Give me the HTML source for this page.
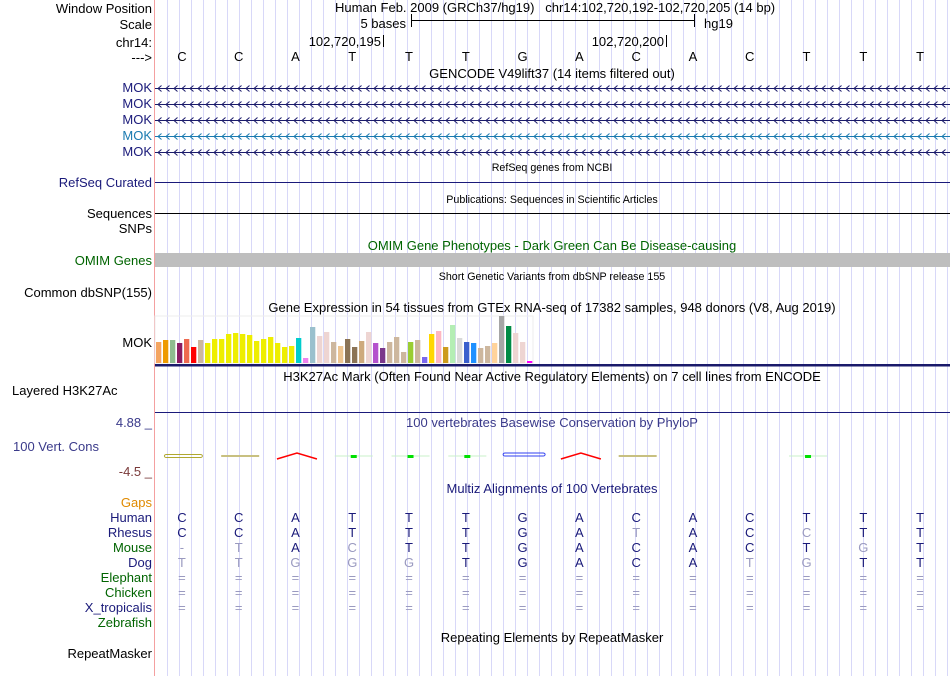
<!DOCTYPE html>
<html><head><meta charset="utf-8"><style>
body{margin:0;background:#fff;}
svg{display:block;font-family:"Liberation Sans",sans-serif;}
</style></head><body>
<svg id="c" width="950" height="676" xmlns="http://www.w3.org/2000/svg">
<g id="grid"></g>
<line x1="154.5" y1="0" x2="154.5" y2="676" stroke="#f4a0a0"/>
<g font-size="13" text-anchor="end">
<text x="152" y="13">Window Position</text>
<text x="152" y="29">Scale</text>
<text x="152" y="47">chr14:</text>
<text x="152" y="62">---&gt;</text>
<text x="152" y="92" fill="#1a1a7a">MOK</text>
<text x="152" y="108" fill="#1a1a7a">MOK</text>
<text x="152" y="124" fill="#1a1a7a">MOK</text>
<text x="152" y="140" fill="#1a7ab0">MOK</text>
<text x="152" y="156" fill="#1a1a7a">MOK</text>
<text x="152" y="187" fill="#1a1a7a">RefSeq Curated</text>
<text x="152" y="218">Sequences</text>
<text x="152" y="233">SNPs</text>
<text x="152" y="265" fill="#006400">OMIM Genes</text>
<text x="152" y="297">Common dbSNP(155)</text>
<text x="152" y="347">MOK</text>
<text x="12" y="395" text-anchor="start">Layered H3K27Ac</text>
<text x="152" y="427" fill="#3a3a8a">4.88 _</text>
<text x="13" y="451" text-anchor="start" fill="#3a3a8a">100 Vert. Cons</text>
<text x="152" y="476" fill="#7a3a3a">-4.5 _</text>
<text x="152" y="507" fill="#e08a00">Gaps</text>
<text x="152" y="522" fill="#1a1a7a">Human</text>
<text x="152" y="537" fill="#1a1a7a">Rhesus</text>
<text x="152" y="552" fill="#006400">Mouse</text>
<text x="152" y="567" fill="#1a1a7a">Dog</text>
<text x="152" y="582" fill="#006400">Elephant</text>
<text x="152" y="597" fill="#006400">Chicken</text>
<text x="152" y="612" fill="#1a1a7a">X_tropicalis</text>
<text x="152" y="627" fill="#006400">Zebrafish</text>
<text x="152" y="658">RepeatMasker</text>
</g>
<g font-size="13" text-anchor="middle">
<text x="335" y="12" text-anchor="start">Human Feb. 2009 (GRCh37/hg19)&#160;&#160;&#160;chr14:102,720,192-102,720,205 (14 bp)</text>
<text x="406" y="28" text-anchor="end">5 bases</text>
<text x="704" y="28" text-anchor="start">hg19</text>
<text x="381" y="46" text-anchor="end">102,720,195</text>
<text x="664" y="46" text-anchor="end">102,720,200</text>
<text x="552" y="78">GENCODE V49lift37 (14 items filtered out)</text>
<text x="552" y="171" font-size="10.7">RefSeq genes from NCBI</text>
<text x="552" y="203" font-size="10.7">Publications: Sequences in Scientific Articles</text>
<text x="552" y="250" fill="#006400">OMIM Gene Phenotypes - Dark Green Can Be Disease-causing</text>
<text x="552" y="280" font-size="10.7">Short Genetic Variants from dbSNP release 155</text>
<text x="552" y="312">Gene Expression in 54 tissues from GTEx RNA-seq of 17382 samples, 948 donors (V8, Aug 2019)</text>
<text x="552" y="381">H3K27Ac Mark (Often Found Near Active Regulatory Elements) on 7 cell lines from ENCODE</text>
<text x="552" y="427" fill="#3a3a8a">100 vertebrates Basewise Conservation by PhyloP</text>
<text x="552" y="493" fill="#1a1a7a">Multiz Alignments of 100 Vertebrates</text>
<text x="552" y="642">Repeating Elements by RepeatMasker</text>
</g>
<g stroke="#000">
<line x1="411" y1="20.5" x2="695" y2="20.5"/><line x1="411.5" y1="14" x2="411.5" y2="27"/><line x1="694.5" y1="14" x2="694.5" y2="27"/>
<line x1="383.5" y1="35" x2="383.5" y2="47"/><line x1="666.5" y1="35" x2="666.5" y2="47"/>
</g>
<line x1="155" y1="182.5" x2="950" y2="182.5" stroke="#1a1a7a"/>
<line x1="155" y1="213.5" x2="950" y2="213.5" stroke="#000"/>
<rect x="155" y="253" width="795" height="14" fill="#bebebe"/>
<rect x="155" y="364" width="795" height="2.5" fill="#1a1a6a"/>
<rect x="155" y="316" width="378" height="47" fill="none" stroke="#eee"/>
<line x1="155" y1="412.5" x2="950" y2="412.5" stroke="#1a1a7a"/>
<g id="genes"></g><g id="bases"></g><g id="bars"></g><g id="cons"></g><g id="maf"></g>
</svg>
<script>
const bases=["C","C","A","T","T","T","G","A","C","A","C","T","T","T"];
const rhesus=["C","C","A","T","T","T","G","A","T","A","C","C","T","T"];
const mouse=["-","T","A","C","T","T","G","A","C","A","C","T","G","T"];
const dog=["T","T","G","G","G","T","G","A","C","A","T","G","T","T"];
const gtexValues=[21,23,23,20,24,16,23,20,24,24,29,30,29,28,22,24,26,20,16,17,25,5,36,27,31,21,17,24,16,22,31,20,15,21,26,11,21,23,6,29,32,16,38,25,21,20,15,17,20,47,37,30,21,2];
const gtexColors=["#f4a460","#ee9a00","#8fbc8f","#8b1c62","#ee6a50","#ff0000","#cdb79e","#eeee00","#eeee00","#eeee00","#eeee00","#eeee00","#eeee00","#eeee00","#eeee00","#eeee00","#eeee00","#eeee00","#eeee00","#eeee00","#00cdcd","#ee82ee","#9ac0cd","#eed5d2","#eed5d2","#cdb79e","#eec591","#8b7355","#8b7355","#cdaa7d","#eed5d2","#b452cd","#7a378b","#cdb79e","#cdb79e","#cdb79e","#9acd32","#cdb79e","#7a67ee","#ffd700","#ffb6c1","#cd9b1d","#b4eeb4","#d9d9d9","#3a5fcd","#1e90ff","#cdb79e","#cdb79e","#ffd39b","#a6a6a6","#008b45","#eed5d2","#eed5d2","#ff00ff"];
const consTypes=["olive","oliveline","red","green","green","green","blue","red","oliveline","none","none","green","none","none"];
const NS="http://www.w3.org/2000/svg";
const x0=155, pw=795, n=bases.length, bw=pw/n;
function bx(i){return x0+bw*(i+0.5)-1.5;}
function mk(tag,attrs,parent,txt){const e=document.createElementNS(NS,tag);for(const k in attrs)e.setAttribute(k,attrs[k]);if(txt!==undefined)e.textContent=txt;parent.appendChild(e);return e;}
const grid=document.getElementById('grid');
for(let x=167.5;x<950;x+=12){const l=mk('line',{x1:x,y1:0,x2:x,y2:676,stroke:'#d8d8f8'},grid);

}
const bg=document.getElementById('bases');
bases.forEach((b,i)=>{const t=mk('text',{x:bx(i),y:61,'font-size':13,'text-anchor':'middle'},bg,b);

});
const gg=document.getElementById('genes');
[[88,'#1a1a6a'],[104,'#1a1a6a'],[120,'#1a1a6a'],[136,'#1a7ab0'],[152,'#1a1a6a']].forEach(([y,c])=>{
const g=mk('g',{stroke:c,fill:'none'},gg);


mk('line',{x1:155,y1:y+.5,x2:950,y2:y+.5},g);
let d='';for(let x=158;x<950;x+=8){d+=`M${x+3.5} ${y-2.5}L${x} ${y+.5}L${x+3.5} ${y+3.5}`;}
mk('path',{d:d},g);});
const barsG=document.getElementById('bars');
const base=363, scale=1;
gtexValues.forEach((v,i)=>{if(v<=0)return;const r=mk('rect',{x:156+i*7,y:base-v*scale,width:5.3,height:v*scale,fill:gtexColors[i]},barsG);

});
const cg=document.getElementById('cons');
consTypes.forEach((t,i)=>{const cx=x0+bw*(i+0.5);const y=456;let e;
if(t==='olive'){e=mk('rect',{x:cx-19,y:y-1.5,width:38,height:3,rx:2,fill:'none',stroke:'#b0a830'},cg);}
else if(t==='oliveline'){e=mk('rect',{x:cx-19,y:y-1,width:38,height:2,fill:'#c8c080'},cg);}
else if(t==='red'){e=mk('path',{d:`M${cx-20} ${y+3}L${cx} ${y-3}L${cx+20} ${y+3}`,fill:'none',stroke:'#f00','stroke-width':1.5},cg);}
else if(t==='blue'){e=mk('rect',{x:cx-21,y:y-3,width:42,height:3,rx:2,fill:'none',stroke:'#3040f0'},cg);}
else if(t==='green'){e=mk('g',{},cg);mk('line',{x1:cx-19,y1:y,x2:cx+19,y2:y,stroke:'#c8f0c8'},e);mk('rect',{x:cx-3,y:y-1,width:6,height:3,fill:'#00e000'},e);}
if(e){
}});
const mg=document.getElementById('maf');
const rows=[[bases,522],[rhesus,537],[mouse,552],[dog,567]];
rows.forEach(([arr,y])=>{arr.forEach((b,i)=>{const same=b===bases[i];
const t=mk('text',{x:bx(i),y:y,'font-size':13,'text-anchor':'middle',fill:same?'#1a1a7a':'#9a9ac0'},mg,b);

});});
[582,597,612].forEach(y=>{bases.forEach((b,i)=>{const t=mk('text',{x:bx(i),y:y,'font-size':13,'text-anchor':'middle',fill:'#9a9ac0'},mg,'=');

});});
</script>
</body></html>
